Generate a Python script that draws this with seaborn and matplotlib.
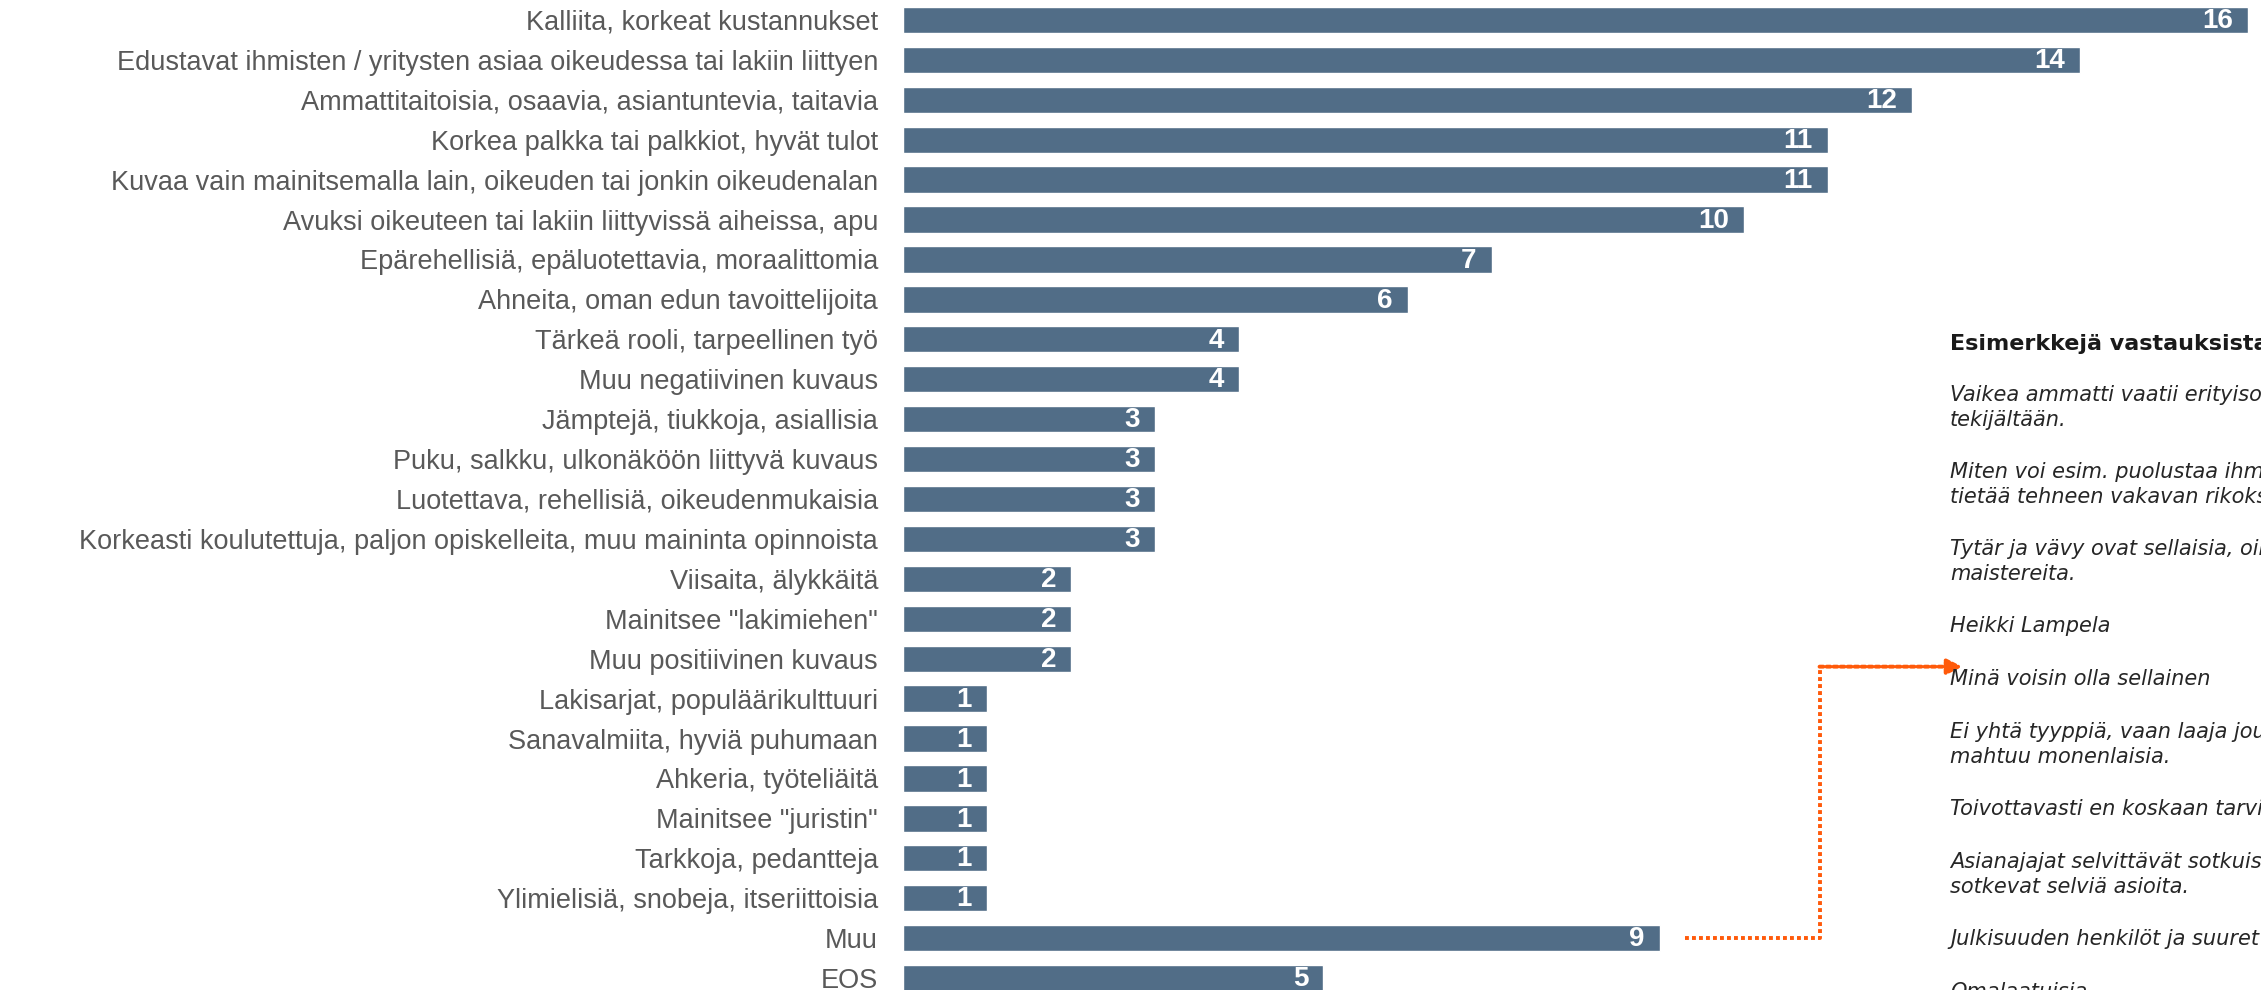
import matplotlib
matplotlib.use("Agg")
import matplotlib.pyplot as plt
import seaborn as sns
import pandas as pd

# luokat ja vastausten lukumäärät
luokat = [
    "Kalliita, korkeat kustannukset",
    "Edustavat ihmisten / yritysten asiaa oikeudessa tai lakiin liittyen",
    "Ammattitaitoisia, osaavia, asiantuntevia, taitavia",
    "Korkea palkka tai palkkiot, hyvät tulot",
    "Kuvaa vain mainitsemalla lain, oikeuden tai jonkin oikeudenalan",
    "Avuksi oikeuteen tai lakiin liittyvissä aiheissa, apu",
    "Epärehellisiä, epäluotettavia, moraalittomia",
    "Ahneita, oman edun tavoittelijoita",
    "Tärkeä rooli, tarpeellinen työ",
    "Muu negatiivinen kuvaus",
    "Jämptejä, tiukkoja, asiallisia",
    "Puku, salkku, ulkonäköön liittyvä kuvaus",
    "Luotettava, rehellisiä, oikeudenmukaisia",
    "Korkeasti koulutettuja, paljon opiskelleita, muu maininta opinnoista",
    "Viisaita, älykkäitä",
    "Mainitsee \"lakimiehen\"",
    "Muu positiivinen kuvaus",
    "Lakisarjat, populäärikulttuuri",
    "Sanavalmiita, hyviä puhumaan",
    "Ahkeria, työteliäitä",
    "Mainitsee \"juristin\"",
    "Tarkkoja, pedantteja",
    "Ylimielisiä, snobeja, itseriittoisia",
    "Muu",
    "EOS",
]
arvot = [16, 14, 12, 11, 11, 10, 7, 6, 4, 4, 3, 3, 3, 3, 2, 2, 2, 1, 1, 1, 1, 1, 1, 9, 5]

otsikko = "Esimerkkejä vastauksista:"
esimerkit = [
    "Vaikea ammatti vaatii erityisosaamista\ntekijältään.",
    "Miten voi esim. puolustaa ihmistä, jonka\ntietää tehneen vakavan rikoksen?",
    "Tytär ja vävy ovat sellaisia, oikeustieteen\nmaistereita.",
    "Heikki Lampela",
    "Minä voisin olla sellainen",
    "Ei yhtä tyyppiä, vaan laaja joukko, johon\nmahtuu monenlaisia.",
    "Toivottavasti en koskaan tarvitse heitä.",
    "Asianajajat selvittävät sotkuisia asioita ja\nsotkevat selviä asioita.",
    "Julkisuuden henkilöt ja suuret palkkiot",
    "Omalaatuisia",
]

df = pd.DataFrame({"luokka": luokat, "n": arvot})

sns.set_style("white")
plt.rcParams["font.family"] = ["Liberation Sans", "DejaVu Sans"]

W, H = 2261, 990
fig = plt.figure(figsize=(W / 100, H / 100), dpi=100)
ax_left = 903 / W
ax = fig.add_axes([ax_left, 1 - 998 / H, 1 - ax_left, 998 / H])

palkki = "#516d87"
sns.barplot(data=df, y="luokka", x="n", orient="h", color=palkki,
            width=0.66, saturation=1, ax=ax)
ax.set_xlim(0, 16.15)
ax.set_ylim(len(luokat) - 0.5, -0.5)
ax.set_xlabel("")
ax.set_ylabel("")
ax.set_xticks([])
sns.despine(ax=ax, left=True, bottom=True, top=True, right=True)
ax.tick_params(axis="y", length=0, pad=18, labelsize=19.5, labelcolor="#595959")

for i, v in enumerate(arvot):
    ax.text(v - 0.18, i + 0.03, str(v), ha="right", va="center", color="white",
            fontsize=20, fontweight="bold")

# nuoli "Muu"-palkista esimerkkeihin
oranssi = "#ff5a0a"
muu_i = luokat.index("Muu")
x0 = arvot[muu_i] + 0.3
x1 = 10.9
y1 = 16.2
ax.plot([x0, x1, x1], [muu_i, muu_i, y1], color=oranssi, lw=2.8,
        linestyle=(0, (1, 0.8)), clip_on=False)
ax.annotate("", xy=(12.6, y1), xytext=(x1, y1),
            arrowprops=dict(arrowstyle="-|>,head_length=0.9,head_width=0.45",
                            color=oranssi, lw=2.8, linestyle=(0, (1, 0.8)),
                            shrinkA=0, shrinkB=0))

# esimerkkipaneeli
tx = 1950 / W
fig.text(tx, 1 - 344 / H, otsikko, family=["DejaVu Sans"], fontsize=16,
         fontweight="bold", color="#1a1a1a", va="center")
line_h = 24
gap = 53
y = 397
for e in esimerkit:
    rivit = e.count("\n") + 1
    fig.text(tx, 1 - (y - 12) / H, e, family=["DejaVu Sans"], fontsize=15,
             style="italic", color="#262626", va="top", linespacing=1.3)
    y += gap + (rivit - 1) * line_h

fig.savefig("out.png", dpi=100)
